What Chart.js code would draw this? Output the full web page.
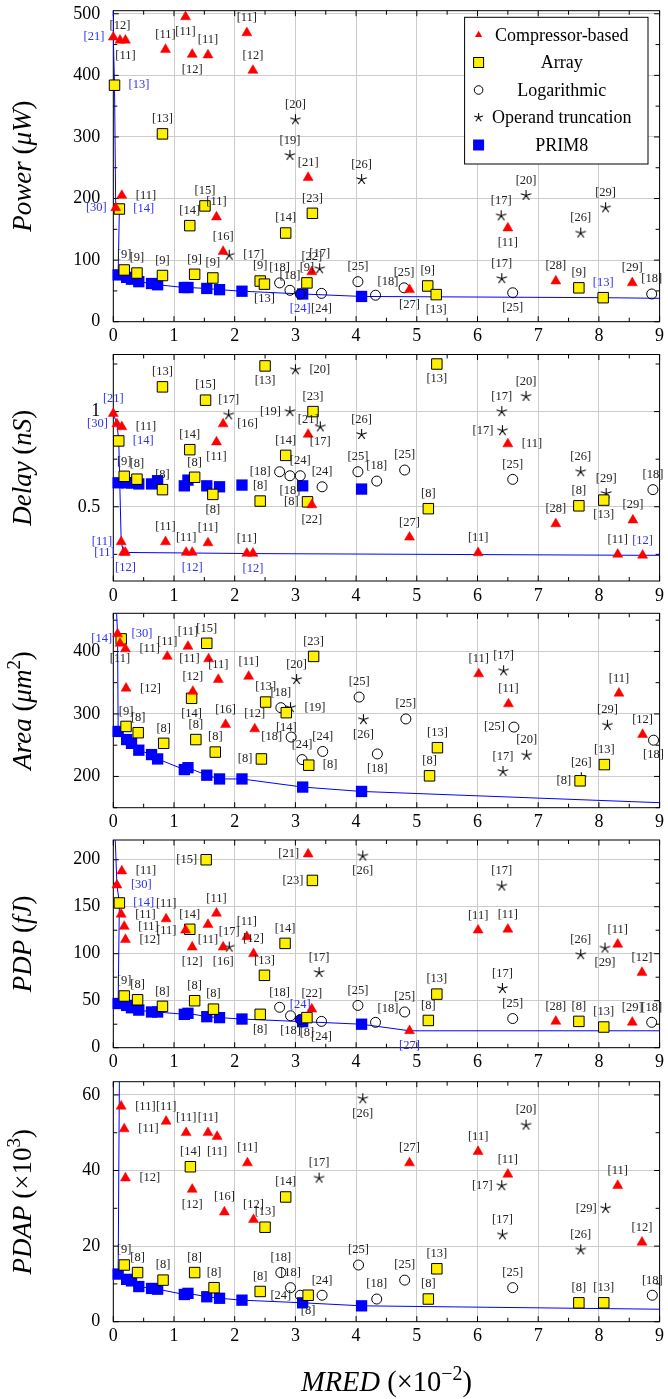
<!DOCTYPE html>
<html>
<head>
<meta charset="utf-8">
<title>PRIM8 vs. related multipliers</title>
<script src="https://cdn.jsdelivr.net/npm/chart.js@4.4.1/dist/chart.umd.min.js"></script>
<style>
  html, body { margin: 0; padding: 0; background: #fff; }
  #wrap { position: relative; width: 668px; height: 1399px; overflow: hidden; }
  #wrap canvas { position: absolute; left: 0; top: 0; }
</style>
</head>
<body>
<div id="wrap">
  <canvas id="power" width="668" height="1399"></canvas>
  <canvas id="delay" width="668" height="1399"></canvas>
  <canvas id="area" width="668" height="1399"></canvas>
  <canvas id="pdp" width="668" height="1399"></canvas>
  <canvas id="pdap" width="668" height="1399"></canvas>
</div>
<script>
// ---- data (MRED x10^-2 on x) ----
const legendNames = ['Compressor-based', 'Array', 'Logarithmic', 'Operand truncation', 'PRIM8'];
const xTicks = [0, 1, 2, 3, 4, 5, 6, 7, 8, 9];
const powTicks = [0, 100, 200, 300, 400, 500];
const delTicks = [0.5, 1];
const areTicks = [200, 300, 400];
const pdpTicks = [0, 50, 100, 150, 200];
const pdaTicks = [0, 20, 40, 60];

// PRIM8 design points (same MRED in every panel)
const prim8Mred  = [0.08, 0.22, 0.30, 0.42, 0.63, 0.73, 1.17, 1.23, 1.54, 1.75, 2.12, 3.12, 4.09];
const prim8Power = [76, 72, 69, 65, 62, 60, 55.5, 55.5, 54, 52, 49.5, 45, 41];
const prim8Delay = [0.626, 0.626, 0.625, 0.62, 0.62, 0.637, 0.61, 0.64, 0.61, 0.605, 0.614, 0.61, 0.593];
const prim8Area  = [272, 259, 253, 242, 235, 228, 211, 214, 202, 196, 196, 183, 176];
const prim8Pdp   = [47, 45, 42.5, 40, 38, 38, 35.5, 36.6, 33, 32, 30.5, 27.7, 25];
const prim8Pdap  = [12.6, 11.2, 10.8, 9.3, 8.8, 8.6, 7.2, 7.5, 6.6, 6.2, 5.7, 5.0, 4.2];

// Power (uW)
const powComp = [[0.00,462],[0.11,457],[0.20,457],[1.19,495],[0.86,442],[1.30,434],[1.56,433],[2.20,469],[2.30,408],[0.14,205],[0.04,185],[1.70,170],[1.81,114],[3.21,234],[3.27,81],[4.88,52],[6.50,152],[7.29,66],[8.55,63]];
const powCompRef = ['[21]','[12]','[11]','[11]','[11]','[12]','[11]','[11]','[12]','[11]','[30]','[11]','[16]','[21]','[22]','[27]','[11]','[28]','[29]'];
const powArr = [[0.02,384],[0.10,183],[0.81,305],[1.26,156],[1.51,188],[2.84,144],[3.28,176],[0.18,84],[0.39,79],[0.81,75],[1.34,77],[1.64,71],[2.42,66],[2.49,61],[3.19,63],[5.18,58],[5.32,44],[7.67,55],[8.07,39]];
const powArrRef = ['[13]','[14]','[13]','[14]','[15]','[14]','[23]','[9]','[9]','[9]','[9]','[9]','[9]','[13]','[9]','[9]','[13]','[9]','[13]'];
const powLog = [[2.74,63],[2.91,51],[3.08,45],[3.43,46],[4.03,65],[4.32,43],[4.79,55],[6.58,47],[8.87,45]];
const powLogRef = ['[18]','[18]','[24]','[24]','[25]','[18]','[25]','[25]','[18]'];
const powTrunc = [[3.00,328],[2.91,270],[1.91,108],[3.40,86],[4.09,231],[6.80,205],[6.39,172],[8.11,185],[7.70,144],[6.40,70]];
const powTruncRef = ['[20]','[19]','[17]','[17]','[26]','[20]','[17]','[29]','[26]','[17]'];
const powFrontHead = [[0.00,505],[0.00,462],[0.02,384],[0.04,185],[0.10,183]];
const powFrontTail = [[8.07,39],[9.00,38]];

// Delay (nS)
const delComp = [[0.00,0.99],[0.06,0.935],[0.14,0.92],[0.13,0.316],[0.17,0.26],[0.20,0.26],[0.86,0.316],[1.20,0.26],[1.30,0.26],[1.56,0.31],[2.20,0.255],[2.30,0.255],[1.81,0.935],[1.70,0.84],[3.21,0.88],[3.27,0.51],[4.88,0.34],[6.01,0.258],[6.50,0.83],[7.29,0.41],[8.56,0.43],[8.31,0.25],[8.72,0.245]];
const delCompRef = ['[21]','[30]','[11]','[11]','[11]','[12]','[11]','[11]','[12]','[11]','[11]','[12]','[16]','[11]','[21]','[22]','[27]','[11]','[11]','[28]','[29]','[11]','[12]'];
const delArr = [[0.09,0.846],[0.81,1.13],[1.52,1.06],[2.50,1.24],[1.26,0.80],[2.84,0.77],[3.29,1.00],[0.18,0.66],[0.39,0.645],[0.81,0.59],[1.34,0.655],[1.64,0.565],[2.42,0.53],[3.20,0.526],[5.19,0.49],[5.33,1.25],[7.67,0.505],[8.08,0.535]];
const delArrRef = ['[14]','[13]','[15]','[13]','[14]','[14]','[23]','[9]','[8]','[8]','[8]','[8]','[8]','[8]','[8]','[13]','[8]','[13]'];
const delLog = [[2.74,0.684],[2.91,0.663],[3.08,0.663],[3.44,0.605],[4.03,0.684],[4.34,0.635],[4.80,0.693],[6.58,0.644],[8.89,0.59]];
const delLogRef = ['[18]','[18]','[24]','[24]','[25]','[18]','[25]','[25]','[18]'];
const delTrunc = [[3.00,1.22],[1.90,0.983],[2.91,1.00],[3.41,0.92],[4.09,0.88],[6.80,1.08],[6.40,1.00],[6.41,0.90],[7.70,0.684],[8.12,0.57]];
const delTruncRef = ['[20]','[17]','[19]','[17]','[26]','[20]','[17]','[17]','[26]','[29]'];
const delFront = [[0.00,0.99],[0.06,0.935],[0.09,0.846],[0.13,0.316],[0.17,0.26],[1.30,0.257],[2.30,0.254],[8.72,0.245],[9.00,0.245]];

// Area (um^2)
const areComp = [[0.07,428],[0.11,413],[0.20,404],[0.21,341],[0.89,392],[1.23,408],[1.57,388],[1.73,355],[1.31,336],[1.85,283],[2.23,360],[2.33,276],[6.02,364],[6.51,316],[8.33,333],[8.72,267]];
const areCompRef = ['[30]','[11]','[11]','[12]','[11]','[11]','[11]','[11]','[12]','[16]','[11]','[12]','[11]','[11]','[11]','[12]'];
const areArr = [[0.13,420],[0.21,280],[0.41,270],[0.83,253],[1.54,413],[1.29,325],[1.36,259],[1.68,239],[2.44,228],[2.51,319],[2.85,302],[3.30,392],[3.22,218],[5.34,246],[5.21,201],[7.69,193],[8.09,219]];
const areArrRef = ['[14]','[9]','[8]','[8]','[15]','[14]','[8]','[8]','[8]','[13]','[14]','[23]','[8]','[13]','[8]','[8]','[13]'];
const areLog = [[2.76,310],[2.93,263],[3.11,227],[3.45,240],[4.05,327],[4.35,236],[4.82,292],[6.60,279],[8.90,258]];
const areLogRef = ['[18]','[18]','[24]','[24]','[25]','[18]','[25]','[25]','[18]'];
const areTrunc = [[3.02,355],[2.92,310],[4.12,291],[6.43,369],[6.42,208],[6.81,234],[8.14,282],[7.71,198]];
const areTruncRef = ['[20]','[19]','[26]','[17]','[17]','[20]','[29]','[26]'];
const areFrontHead = [[0.05,470],[0.07,428]];
const areFrontTail = [[9.00,158]];

// PDP (fJ)
const pdpComp = [[0.06,173],[0.14,188],[0.13,142],[0.18,129],[0.20,115],[0.87,137],[1.19,125],[1.30,107],[1.56,131],[1.70,143],[1.81,107],[2.20,118],[2.31,100],[3.21,206],[3.27,41],[4.88,18],[6.01,125],[6.50,126],[7.29,28],[8.31,110],[8.55,27],[8.71,80]];
const pdpCompRef = ['[30]','[11]','[11]','[11]','[12]','[11]','[11]','[12]','[11]','[11]','[16]','[11]','[12]','[21]','[22]','[27]','[11]','[11]','[28]','[11]','[29]','[12]'];
const pdpArr = [[0.10,154],[0.18,55],[0.40,51],[0.81,44],[1.53,200],[1.26,126],[1.34,50],[1.65,41],[2.42,35.5],[2.49,77],[2.83,111],[3.28,178],[3.19,32],[5.33,57],[5.19,29],[7.67,28],[8.08,22]];
const pdpArrRef = ['[14]','[9]','[8]','[8]','[15]','[14]','[8]','[8]','[8]','[13]','[14]','[23]','[8]','[13]','[8]','[8]','[13]'];
const pdpLog = [[2.74,43],[2.92,34],[3.08,30],[3.43,28],[4.03,45],[4.32,27],[4.80,38],[6.58,31],[8.87,27]];
const pdpLogRef = ['[18]','[18]','[24]','[24]','[25]','[18]','[25]','[25]','[18]'];
const pdpTrunc = [[1.91,107],[3.39,80],[4.11,204],[6.40,172],[6.41,63],[7.70,99],[8.10,106]];
const pdpTruncRef = ['[17]','[17]','[26]','[17]','[17]','[26]','[29]'];
const pdpFrontHead = [[0.03,225],[0.06,173],[0.10,154]];
const pdpFrontTail = [[4.88,18],[9.00,18]];

// PDAP (x10^3)
const pdaComp = [[0.13,57],[0.18,51],[0.20,38],[0.87,53],[1.20,50],[1.56,50],[1.71,49],[1.30,35],[1.83,29],[2.21,42],[2.31,27],[4.88,42],[6.01,45],[6.50,39],[8.31,36],[8.71,21]];
const pdaCompRef = ['[11]','[11]','[12]','[11]','[11]','[11]','[11]','[12]','[16]','[11]','[12]','[27]','[11]','[11]','[11]','[12]'];
const pdaArr = [[0.18,15],[0.40,13],[0.82,11],[1.27,41],[1.34,13],[1.66,9],[2.42,8],[2.50,25],[2.84,33],[3.21,7],[5.33,14],[5.19,6],[7.67,5],[8.08,5]];
const pdaArrRef = ['[9]','[8]','[8]','[14]','[8]','[8]','[8]','[13]','[14]','[8]','[13]','[8]','[8]','[13]'];
const pdaLog = [[2.76,13],[2.92,9],[3.08,7],[3.44,7],[4.04,15],[4.34,6],[4.80,11],[6.58,9],[8.88,7]];
const pdaLogRef = ['[18]','[18]','[24]','[24]','[25]','[18]','[25]','[25]','[18]'];
const pdaTrunc = [[3.39,38],[4.11,59],[6.80,52],[6.40,36],[6.41,23],[8.11,30],[7.70,19]];
const pdaTruncRef = ['[17]','[26]','[20]','[17]','[17]','[29]','[26]'];
const pdaFrontHead = [[0.10,64]];
const pdaFrontTail = [[9.00,3.3]];

// ---- label placement (a above, b below, l left, r right, ar above-right; * = on front, blue) ----
const powCompAt = ['l*','a','b','b','a','b','a','a','a','r','l*','a','a','a','a','b','b','a','a'];
const powArrAt = ['r*','r*','a','a','a','a','a','a','a','a','a','a','a','b','a','a','b','a','a*'];
const powLogAt = ['a','a','b*','b','a','ar','a','b','a'];
const powTruncAt = ['a','a','r','a','a','a','a','a','a','a'];
const delCompAt = ['a*','l*','r','l*','l*','b*','a','a','b*','a','a','b*','r','b','a','b','a','a','r','a','a','a','a*'];
const delArrAt = ['r*','a','a','b','a','a','a','a','a','a','a','b','a','l','a','b','a','b'];
const delLogAt = ['l','b','a','a','a','a','a','a','a'];
const delTruncAt = ['r','a','l','b','a','a','a','l','a','a'];
const areCompAt = ['r*','b','r','r','a','a','l','a','a','a','a','a','a','a','a','a'];
const areArrAt = ['l*','a','a','a','a','b','a','a','l','a','b','a','r','a','a','l','a'];
const areLogAt = ['a','l','a','a','a','b','a','l','b'];
const areTruncAt = ['a','r','b','a','a','a','a','a'];
const pdpCompAt = ['r*','r','r','r','r','a','l','b','b','a','b','a','a','l','a','b*','a','a','a','a','a','a'];
const pdpArrAt = ['r*','a','a','a','l','a','a','a','b','a','a','l','b','a','a','a','a'];
const pdpLogAt = ['a','b','a*','b','a','ar','a','a','a'];
const pdpTruncAt = ['a','a','b','a','a','a','b'];
const pdaCompAt = ['r','r','r','a','a','a','b','b','a','a','a','a','a','a','a','a'];
const pdaArrAt = ['a','a','a','a','a','a','a','a','a','b','a','a','a','a'];
const pdaLogAt = ['a','a','l','a','a','a','a','a','a'];
const pdaTruncAt = ['a','b','a','l','a','l','a'];

// ---- drawing ----
const FONT = "'Liberation Serif', 'Times New Roman', serif";
Chart.defaults.font.family = FONT;
Chart.defaults.color = '#000';

const W = 668, H = 1399;
const AX_L = 113.3, AX_R = 664.3;
const YELLOW = '#fff000', RED = '#ff0000', BLUE = '#0000ff';

// five-armed star mark (pgfplots "star")
function makeStar(r) {
  const c = document.createElement('canvas');
  const s = 2 * Math.ceil(r + 2) + 1;
  c.width = s; c.height = s;
  const g = c.getContext('2d');
  g.strokeStyle = '#000';
  g.lineWidth = 1.05;
  g.beginPath();
  for (let k = 0; k < 5; k++) {
    const a = -Math.PI / 2 + k * 2 * Math.PI / 5;
    g.moveTo(s / 2, s / 2);
    g.lineTo(s / 2 + r * Math.cos(a), s / 2 + r * Math.sin(a));
  }
  g.stroke();
  return c;
}
const starImg = makeStar(5.4);
const starSmall = makeStar(4.6);

const toPts = xy => xy.map(p => ({x: p[0], y: p[1]}));
const primPairs = ys => prim8Mred.map((x, i) => [x, ys[i]]);

function markers(kind, xy, refs, at) {
  const ds = {label: kind, data: toPts(xy), refs, at, showLine: false, clip: false};
  if (kind === 'comp') Object.assign(ds, {pointStyle: 'triangle', pointRadius: 5.8,
    pointBackgroundColor: RED, pointBorderColor: RED, pointBorderWidth: 0.5});
  if (kind === 'arr') Object.assign(ds, {pointStyle: 'rect', pointRadius: 7.4,
    pointBackgroundColor: YELLOW, pointBorderColor: '#000', pointBorderWidth: 1});
  if (kind === 'log') Object.assign(ds, {pointStyle: 'circle', pointRadius: 5,
    pointBackgroundColor: at.map(c => c.endsWith('*') ? BLUE : 'rgba(0,0,0,0)'),
    pointBorderColor: '#000', pointBorderWidth: 1});
  if (kind === 'trunc') Object.assign(ds, {pointStyle: starImg, pointRadius: 5});
  return ds;
}

const framePlugin = {
  id: 'frame',
  beforeDatasetsDraw(chart, args, opts) {
    const {ctx, chartArea: a, scales: {x, y}} = chart;
    ctx.save();
    ctx.strokeStyle = '#000';
    ctx.lineWidth = 1;
    ctx.beginPath();
    for (let v = 0; v <= 9.0001; v += 0.5) {
      const px = x.getPixelForValue(v);
      const len = Math.abs(v - Math.round(v)) < 1e-6 ? 5.5 : 4;
      ctx.moveTo(px, a.bottom); ctx.lineTo(px, a.bottom - len);
      ctx.moveTo(px, a.top); ctx.lineTo(px, a.top + len);
    }
    const first = Math.ceil((y.min - 1e-9) / opts.minor) * opts.minor;
    for (let v = first; v <= y.max + 1e-9; v += opts.minor) {
      const py = y.getPixelForValue(v);
      const r = v / opts.major;
      const len = Math.abs(r - Math.round(r)) < 1e-6 ? 5.5 : 4;
      ctx.moveTo(a.left, py); ctx.lineTo(a.left + len, py);
      ctx.moveTo(a.right, py); ctx.lineTo(a.right - len, py);
    }
    ctx.stroke();
    ctx.strokeRect(a.left, a.top, a.width, a.height);
    ctx.restore();
  }
};

const refPlugin = {
  id: 'refs',
  afterDatasetsDraw(chart) {
    const ctx = chart.ctx;
    ctx.save();
    ctx.font = '12.5px ' + FONT;
    ctx.textBaseline = 'middle';
    chart.data.datasets.forEach((ds, di) => {
      if (!ds.refs) return;
      chart.getDatasetMeta(di).data.forEach((el, i) => {
        const txt = ds.refs[i];
        if (!txt) return;
        const code = ds.at[i] || 'a';
        const pos = code.replace('*', '');
        let x = el.x, y = el.y, align = 'center';
        if (pos === 'a') y -= 15;
        else if (pos === 'b') y += 15;
        else if (pos === 'l') { x -= 9; align = 'right'; }
        else if (pos === 'r') { x += 14; align = 'left'; }
        else if (pos === 'ar') { x += 2; y -= 14; align = 'left'; }
        ctx.fillStyle = code.endsWith('*') ? '#2f2ff0' : '#222';
        ctx.textAlign = align;
        ctx.fillText(txt, x, y);
      });
    });
    ctx.restore();
  }
};

function drawRich(ctx, segs, size) {
  const fontOf = s => (s[1] ? 'italic ' : '') + (s[2] ? size * 0.7 : size) + 'px ' + FONT;
  let w = 0;
  segs.forEach(s => { ctx.font = fontOf(s); w += ctx.measureText(s[0]).width; });
  let x = -w / 2;
  ctx.fillStyle = '#000';
  ctx.textAlign = 'left';
  ctx.textBaseline = 'alphabetic';
  segs.forEach(s => {
    ctx.font = fontOf(s);
    ctx.fillText(s[0], x, s[2] ? -size * 0.4 : 0);
    x += ctx.measureText(s[0]).width;
  });
}

const titlePlugin = {
  id: 'titles',
  afterDraw(chart, args, opts) {
    const {ctx, chartArea: a} = chart;
    ctx.save();
    ctx.translate(31, (a.top + a.bottom) / 2);
    ctx.rotate(-Math.PI / 2);
    drawRich(ctx, opts.y, 27);
    ctx.restore();
    if (opts.x) {
      ctx.save();
      ctx.translate((a.left + a.right) / 2, 1391);
      drawRich(ctx, opts.x, 28.5);
      ctx.restore();
    }
  }
};

function legendMarker(ctx, i, x, y) {
  ctx.save();
  ctx.lineWidth = 1;
  if (i === 0) {
    const r = 4.2;
    ctx.fillStyle = RED;
    ctx.beginPath();
    ctx.moveTo(x, y - r);
    ctx.lineTo(x + r * 0.866, y + r / 2);
    ctx.lineTo(x - r * 0.866, y + r / 2);
    ctx.closePath();
    ctx.fill();
  } else if (i === 1) {
    ctx.fillStyle = YELLOW; ctx.strokeStyle = '#000';
    ctx.fillRect(x - 5, y - 5, 10, 10); ctx.strokeRect(x - 5, y - 5, 10, 10);
  } else if (i === 2) {
    ctx.strokeStyle = '#000';
    ctx.beginPath(); ctx.arc(x, y, 4.3, 0, Math.PI * 2); ctx.stroke();
  } else if (i === 3) {
    ctx.drawImage(starSmall, x - starSmall.width / 2, y - starSmall.height / 2);
  } else {
    ctx.fillStyle = BLUE;
    ctx.fillRect(x - 5.5, y - 5.5, 11, 11);
  }
  ctx.restore();
}

const legendPlugin = {
  id: 'boxLegend',
  afterDraw(chart, args, opts) {
    if (!opts.show) return;
    const {ctx, chartArea: a} = chart;
    const bw = 183.4, bh = 146.7;
    const bx = a.right - 11.6 - bw, by = a.top + 6.6;
    ctx.save();
    ctx.fillStyle = '#fff';
    ctx.fillRect(bx, by, bw, bh);
    ctx.strokeStyle = '#000';
    ctx.lineWidth = 1;
    ctx.strokeRect(bx, by, bw, bh);
    ctx.font = '18px ' + FONT;
    ctx.textAlign = 'center';
    ctx.textBaseline = 'middle';
    legendNames.forEach((name, i) => {
      const cy = by + 17.7 + i * 27.5;
      legendMarker(ctx, i, bx + 14, cy);
      ctx.fillStyle = '#000';
      ctx.fillText(name, bx + 97.2, cy + 1);
    });
    ctx.restore();
  }
};

function panel(id, o) {
  const xh = o.xh || 30;
  const datasets = [
    markers('comp', o.comp[0], o.comp[1], o.comp[2]),
    markers('arr', o.arr[0], o.arr[1], o.arr[2]),
    markers('log', o.log[0], o.log[1], o.log[2]),
    markers('trunc', o.trunc[0], o.trunc[1], o.trunc[2]),
    {label: 'PRIM8', data: toPts(primPairs(o.prim)), pointStyle: 'rect', pointRadius: 8,
     pointBackgroundColor: BLUE, pointBorderColor: BLUE, pointBorderWidth: 0, showLine: false, clip: false},
    {label: 'front', data: toPts(o.front), showLine: true, borderColor: BLUE, borderWidth: 1,
     pointRadius: 0, tension: 0}
  ];
  return new Chart(document.getElementById(id), {
    type: 'scatter',
    data: {datasets},
    options: {
      responsive: false,
      devicePixelRatio: 1,
      animation: false,
      events: [],
      layout: {padding: {top: o.top, bottom: H - o.bottom - xh, left: 0, right: W - AX_R}},
      scales: {
        x: {
          type: 'linear', min: 0, max: 9,
          afterBuildTicks: s => { s.ticks = xTicks.map(v => ({value: v})); },
          ticks: {font: {size: 18}, color: '#000', padding: 4, maxRotation: 0, autoSkip: false,
                  callback: v => String(v)},
          grid: {color: '#cccccc', lineWidth: 1, drawTicks: false},
          border: {display: false},
          afterFit: s => { s.height = xh; s.paddingLeft = 0; s.paddingRight = 0; }
        },
        y: {
          type: 'linear', min: o.min, max: o.max,
          afterBuildTicks: s => { s.ticks = o.ticks.map(v => ({value: v})); },
          ticks: {font: {size: 18}, color: '#000', padding: 13, autoSkip: false,
                  callback: v => String(v)},
          grid: {color: '#cccccc', lineWidth: 1, drawTicks: false},
          border: {display: false},
          afterFit: s => { s.width = AX_L; s.paddingTop = 0; s.paddingBottom = 0; }
        }
      },
      plugins: {
        legend: {display: false},
        tooltip: {enabled: false},
        frame: {major: o.major, minor: o.minor},
        titles: {y: o.title, x: o.xtitle},
        boxLegend: {show: !!o.legend}
      }
    },
    plugins: [framePlugin, refPlugin, titlePlugin, legendPlugin]
  });
}

panel('power', {
  top: 10.7, bottom: 321.7, min: 0, max: 505, major: 100, minor: 50, ticks: powTicks, legend: true,
  title: [['Power', 1], [' (', 0], ['\u03bcW', 1], [')', 0]],
  comp: [powComp, powCompRef, powCompAt], arr: [powArr, powArrRef, powArrAt],
  log: [powLog, powLogRef, powLogAt], trunc: [powTrunc, powTruncRef, powTruncAt],
  prim: prim8Power, front: powFrontHead.concat(primPairs(prim8Power), powFrontTail)
});
panel('delay', {
  top: 354.5, bottom: 581, min: 0.11, max: 1.3, major: 0.5, minor: 0.25, ticks: delTicks,
  title: [['Delay', 1], [' (', 0], ['nS', 1], [')', 0]],
  comp: [delComp, delCompRef, delCompAt], arr: [delArr, delArrRef, delArrAt],
  log: [delLog, delLogRef, delLogAt], trunc: [delTrunc, delTruncRef, delTruncAt],
  prim: prim8Delay, front: delFront
});
panel('area', {
  top: 613.3, bottom: 807.7, min: 150, max: 461, major: 100, minor: 50, ticks: areTicks,
  title: [['Area', 1], [' (', 0], ['\u03bcm', 1], ['2', 0, 1], [')', 0]],
  comp: [areComp, areCompRef, areCompAt], arr: [areArr, areArrRef, areArrAt],
  log: [areLog, areLogRef, areLogAt], trunc: [areTrunc, areTruncRef, areTruncAt],
  prim: prim8Area, front: areFrontHead.concat(primPairs(prim8Area), areFrontTail)
});
panel('pdp', {
  top: 840, bottom: 1047.7, min: 0, max: 221, major: 50, minor: 25, ticks: pdpTicks,
  title: [['PDP', 1], [' (', 0], ['fJ', 1], [')', 0]],
  comp: [pdpComp, pdpCompRef, pdpCompAt], arr: [pdpArr, pdpArrRef, pdpArrAt],
  log: [pdpLog, pdpLogRef, pdpLogAt], trunc: [pdpTrunc, pdpTruncRef, pdpTruncAt],
  prim: prim8Pdp, front: pdpFrontHead.concat(primPairs(prim8Pdp), pdpFrontTail)
});
panel('pdap', {
  top: 1081.7, bottom: 1321.7, min: 0, max: 63.5, major: 20, minor: 10, ticks: pdaTicks, xh: H - 1321.7,
  title: [['PDAP', 1], [' (\u00d710', 0], ['3', 0, 1], [')', 0]],
  xtitle: [['MRED', 1], [' (\u00d710', 0], ['\u22122', 0, 1], [')', 0]],
  comp: [pdaComp, pdaCompRef, pdaCompAt], arr: [pdaArr, pdaArrRef, pdaArrAt],
  log: [pdaLog, pdaLogRef, pdaLogAt], trunc: [pdaTrunc, pdaTruncRef, pdaTruncAt],
  prim: prim8Pdap, front: pdaFrontHead.concat(primPairs(prim8Pdap), pdaFrontTail)
});
</script>
</body>
</html>
